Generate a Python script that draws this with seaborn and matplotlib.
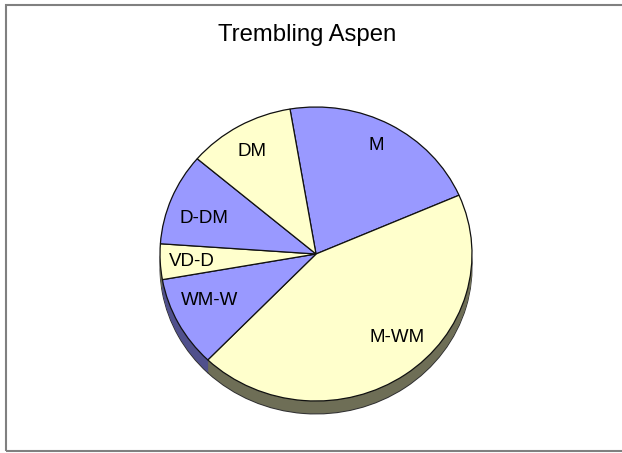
import numpy as np
import seaborn as sns
import matplotlib.pyplot as plt
from matplotlib.patches import Rectangle

# slice data (clockwise from the top)
classes = ['M', 'M-WM', 'WM-W', 'VD-D', 'D-DM', 'DM']
shares = [21.1, 43.7, 10.0, 3.9, 10.1, 11.1]

face_cols = ['#9999FF', '#FFFFCC', '#9999FF', '#FFFFCC', '#9999FF', '#FFFFCC']
side_cols = ['#50508C', '#6E6E56', '#50508C', '#6E6E56', '#50508C', '#6E6E56']

# label placement tweaks (radius fraction, angle nudge in degrees)
lab_r = [0.835, 0.767, 0.75, 0.797, 0.756, 0.81]
lab_turn = [0.9, 7.6, -3.0, 0.75, 3.8, 0.75]

sns.set_theme(style='white')
plt.rcParams['font.family'] = ['Liberation Sans', 'DejaVu Sans']

fig = plt.figure(figsize=(6.22, 4.53), dpi=100)
fig.patch.set_facecolor('white')
ax = fig.add_axes([0.2071, 0.0499, 0.6019, 0.7788])

start = 99.6
depth = 0.088

# side of the disc: stacked darker copies
offsets = np.linspace(depth, 0.0, 16)
for i, d in enumerate(offsets):
    edge = '#333333' if i == 0 else 'none'
    ax.pie(shares, colors=side_cols, startangle=start, counterclock=False,
           center=(0, -d),
           wedgeprops=dict(linewidth=0.8 if i == 0 else 0, edgecolor=edge))

wedges, _ = ax.pie(shares, colors=face_cols, startangle=start, counterclock=False,
                   wedgeprops=dict(linewidth=0.9, edgecolor='#111111'))

for w, name, r, t in zip(wedges, classes, lab_r, lab_turn):
    mid = np.deg2rad((w.theta1 + w.theta2) / 2 + t)
    ax.text(r * np.cos(mid), r * np.sin(mid), name, ha='center', va='center',
            fontsize=13.5, color='black')

ax.set_aspect('auto')
ax.set_xlim(-1.2, 1.2)
ax.set_ylim(-1.2, 1.2)
ax.axis('off')

fig.text(307.5 / 622, 1 - 41 / 453, 'Trembling Aspen', ha='center', va='baseline',
         fontsize=17.2, color='black')

fig.patches.append(Rectangle((5.5 / 622, 2 / 453), 2.0, 446 / 453,
                             transform=fig.transFigure, fill=False,
                             edgecolor='#808080', linewidth=1.5))

fig.savefig('out.png', dpi=100)
